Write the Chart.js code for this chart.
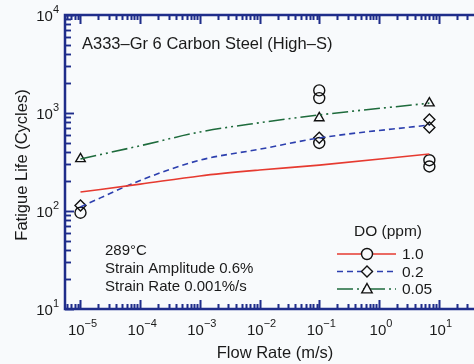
<!DOCTYPE html>
<html>
<head>
<meta charset="utf-8">
<script src="https://cdn.jsdelivr.net/npm/chart.js@4.4.0/dist/chart.umd.min.js"></script>
<style>
  html, body { margin: 0; padding: 0; background: #f8fafc; }
  canvas { display: block; }
</style>
</head>
<body>
<canvas id="fatigueChart" width="474" height="364"></canvas>
<script>
// Fitted trend curves (flow rate in m/s, life in cycles)
const fitFlow = [1e-5, 1e-4, 1e-3, 1e-2, 1e-1, 7];
const fitDO10 = [156, 188, 228, 262, 294, 382];
const fitDO02 = [110, 205, 330, 427, 556, 755];
const fitDO005 = [340, 463, 640, 795, 955, 1260];

// Test results
const flowDO10 = [1e-5, 0.1, 0.1, 0.1, 7, 7];
const lifeDO10 = [96, 1700, 1420, 495, 330, 285];
const flowDO02 = [1e-5, 0.1, 7, 7];
const lifeDO02 = [114, 560, 860, 710];
const flowDO005 = [1e-5, 0.1, 7];
const lifeDO005 = [340, 890, 1260];

// Decade tick labels
const xDecades = [-5, -4, -3, -2, -1, 0, 1];
const yDecades = [1, 2, 3, 4];

const legendLabels = ['1.0', '0.2', '0.05'];

const RED = '#e63a30';
const BLUE = '#2c3fae';
const GREEN = '#1e6b3c';
const AXIS = '#1f2d8a';
const BG = '#f8fafc';
const FONT = '"Liberation Sans", Arial, sans-serif';

const toPoints = (xs, ys) => xs.map((v, i) => ({ x: v, y: ys[i] }));

function drawMarker(ctx, style, x, y, r) {
  ctx.beginPath();
  if (style === 'circle') {
    ctx.arc(x, y, r, 0, Math.PI * 2);
  } else if (style === 'rectRot') {
    ctx.moveTo(x, y - r); ctx.lineTo(x + r, y); ctx.lineTo(x, y + r); ctx.lineTo(x - r, y); ctx.closePath();
  } else {
    ctx.moveTo(x, y - r); ctx.lineTo(x + r * 0.95, y + r * 0.7); ctx.lineTo(x - r * 0.95, y + r * 0.7); ctx.closePath();
  }
  ctx.fillStyle = BG;
  ctx.fill();
  ctx.stroke();
}

// Power-of-ten label: "10" with a raised exponent
function powerLabel(ctx, exp, x, y, align) {
  const base = '10', sup = String(exp).replace('-', '\u2212');
  ctx.font = '15px ' + FONT;
  const wb = ctx.measureText(base).width;
  ctx.font = '11px ' + FONT;
  const ws = ctx.measureText(sup).width;
  const left = align === 'right' ? x - wb - ws : x - (wb + ws) / 2;
  ctx.textBaseline = 'middle';
  ctx.textAlign = 'left';
  ctx.font = '15px ' + FONT;
  ctx.fillText(base, left, y);
  ctx.font = '11px ' + FONT;
  ctx.fillText(sup, left + wb, y - 7);
}

// Inward tick marks on the bottom, top and left axes
function drawTicks(ctx, a, x, y, right) {
  ctx.setLineDash([]);
  ctx.strokeStyle = AXIS;
  ctx.lineWidth = 1.6;
  ctx.beginPath();
  for (let e = -6; e <= 2; e++) {
    for (let m = 1; m <= 9; m++) {
      const px = Math.round(x.getPixelForValue(m * Math.pow(10, e))) + 0.5;
      if (px < a.left || px > right) continue;
      const len = m === 1 ? 9 : 5;
      ctx.moveTo(px, a.bottom);
      ctx.lineTo(px, a.bottom - len);
      ctx.moveTo(px, a.top);
      ctx.lineTo(px, a.top + len);
    }
  }
  for (let e = 1; e <= 4; e++) {
    for (let m = 1; m <= 9; m++) {
      const v = m * Math.pow(10, e);
      if (v > 10000) continue;
      const py = Math.round(y.getPixelForValue(v)) + 0.5;
      const len = m === 1 ? 9 : 6;
      ctx.moveTo(a.left, py);
      ctx.lineTo(a.left + len, py);
    }
  }
  ctx.stroke();
}

const tickPlugin = {
  id: 'ticks',
  afterDatasetsDraw(chart) {
    const { ctx, chartArea: a, scales } = chart;
    ctx.save();
    drawTicks(ctx, a, scales.x, scales.y, chart.width);
    ctx.restore();
  }
};

const framePlugin = {
  id: 'frame',
  beforeDraw(chart) {
    const ctx = chart.ctx;
    ctx.save();
    ctx.fillStyle = BG;
    ctx.fillRect(0, 0, chart.width, chart.height);
    ctx.restore();
  },
  afterDraw(chart) {
    const { ctx, chartArea: a, scales } = chart;
    const sx = scales.x, sy = scales.y;
    const right = chart.width;
    ctx.save();
    drawTicks(ctx, a, sx, sy, right);

    // axis lines
    ctx.strokeStyle = AXIS;
    ctx.lineWidth = 2.5;
    ctx.beginPath();
    ctx.moveTo(right, a.top);
    ctx.lineTo(a.left, a.top);
    ctx.lineTo(a.left, a.bottom);
    ctx.lineTo(right, a.bottom);
    ctx.stroke();

    // tick labels
    ctx.fillStyle = '#1a1a1a';
    xDecades.forEach(e => powerLabel(ctx, e, sx.getPixelForValue(Math.pow(10, e)) + 2, a.bottom + 22, 'center'));
    yDecades.forEach(e => powerLabel(ctx, e, a.left - 6, sy.getPixelForValue(Math.pow(10, e)) + 2, 'right'));

    // axis titles
    ctx.font = '16.5px ' + FONT;
    ctx.textAlign = 'center';
    ctx.textBaseline = 'middle';
    ctx.fillText('Flow Rate (m/s)', 275, 353);
    ctx.save();
    ctx.translate(22, 165);
    ctx.rotate(-Math.PI / 2);
    ctx.fillText('Fatigue Life (Cycles)', 0, 0);
    ctx.restore();

    // annotations
    ctx.textAlign = 'left';
    ctx.font = '16.5px ' + FONT;
    ctx.fillText('A333\u2013Gr 6 Carbon Steel (High\u2013S)', 82, 44);
    ctx.font = '15px ' + FONT;
    ctx.fillText('289\u00b0C', 105, 251);
    ctx.fillText('Strain Amplitude 0.6%', 105, 269);
    ctx.fillText('Strain Rate 0.001%/s', 105, 287);

    // legend
    ctx.font = '15.5px ' + FONT;
    ctx.textAlign = 'center';
    ctx.fillText('DO (ppm)', 388, 232);
    const rows = [
      { color: RED, dash: [], style: 'circle' },
      { color: BLUE, dash: [6, 4], style: 'rectRot' },
      { color: GREEN, dash: [16, 4, 2, 4, 2, 4], style: 'triangle' }
    ];
    rows.forEach((r, i) => {
      const ly = 254 + i * 17.5;
      ctx.strokeStyle = r.color;
      ctx.lineWidth = 1.5;
      ctx.setLineDash(r.dash);
      ctx.beginPath();
      ctx.moveTo(337, ly);
      ctx.lineTo(396, ly);
      ctx.stroke();
      ctx.setLineDash([]);
      ctx.strokeStyle = '#111';
      ctx.lineWidth = 1.4;
      drawMarker(ctx, r.style, 367, ly, 5.5);
      ctx.fillStyle = '#1a1a1a';
      ctx.textAlign = 'left';
      ctx.font = '15.5px ' + FONT;
      ctx.fillText(legendLabels[i], 402, ly + 1);
    });
    ctx.restore();
  }
};

const fitLine = (data, color, dash) => ({
  data: toPoints(fitFlow, data),
  showLine: true,
  borderColor: color,
  borderWidth: 1.6,
  borderDash: dash,
  cubicInterpolationMode: 'monotone',
  pointRadius: 0,
  fill: false
});

const markers = (xs, ys, style) => ({
  data: toPoints(xs, ys),
  showLine: false,
  pointStyle: style,
  pointRadius: 5.5,
  pointBorderColor: '#111',
  pointBackgroundColor: 'rgba(0,0,0,0)',
  pointBorderWidth: 1.4
});

new Chart(document.getElementById('fatigueChart'), {
  type: 'scatter',
  data: {
    datasets: [
      fitLine(fitDO10, RED, []),
      fitLine(fitDO02, BLUE, [6, 4]),
      fitLine(fitDO005, GREEN, [16, 4, 2, 4, 2, 4]),
      markers(flowDO10, lifeDO10, 'circle'),
      markers(flowDO02, lifeDO02, 'rectRot'),
      markers(flowDO005, lifeDO005, 'triangle')
    ]
  },
  options: {
    responsive: false,
    animation: false,
    layout: { padding: { left: 65, top: 15, right: 0, bottom: 55 } },
    scales: {
      x: { type: 'logarithmic', min: 5.5e-6, max: 30, display: false },
      y: { type: 'logarithmic', min: 10, max: 10000, display: false }
    },
    plugins: {
      legend: { display: false },
      tooltip: { enabled: false }
    }
  },
  plugins: [tickPlugin, framePlugin]
});
</script>
</body>
</html>
